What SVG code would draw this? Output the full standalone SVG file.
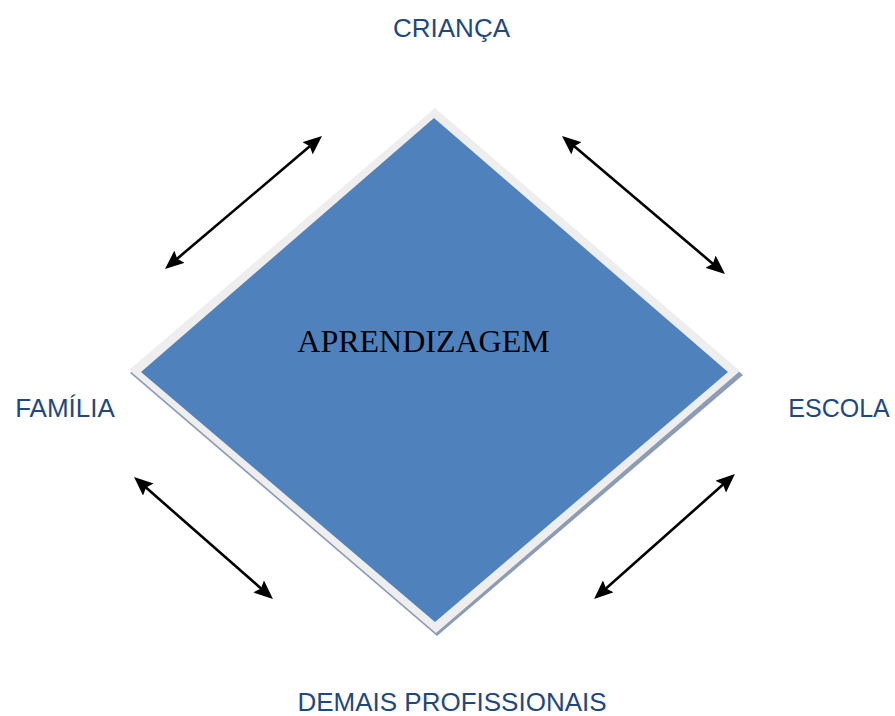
<svg xmlns="http://www.w3.org/2000/svg" width="895" height="716" viewBox="0 0 895 716">
<style>
.lbl{font-family:"Liberation Sans",Arial,sans-serif;font-size:26px;fill:#1f497d;text-anchor:middle}
.ctr{font-family:"Liberation Serif","Times New Roman",serif;font-size:32px;fill:#000;text-anchor:middle}
.arr{stroke:#000;stroke-width:2.6;fill:none;marker-start:url(#ah);marker-end:url(#ah)}
</style>
<defs>
<marker id="ah" markerUnits="userSpaceOnUse" markerWidth="20" markerHeight="16" refX="8" refY="8" orient="auto-start-reverse" viewBox="0 0 20 16">
<path d="M0,0 L19,8 L0,16 L3,8 z" fill="#000"/>
</marker>
</defs>
<rect width="895" height="716" fill="#fff"/>
<g id="aprendizagem">
<polygon points="436,111 743,375 437,636 130,373" fill="#8c9cb4"/>
<polygon points="435,108 740,371 436,633 129,370" fill="#eeeeee"/>
<polygon points="434,118 728,372 435,622 141,372" fill="#4f81bd"/>
<text class="ctr" x="423.5" y="352">APRENDIZAGEM</text>
</g>
<g id="crianca"><text class="lbl" x="451.5" y="37">CRIANÇA</text></g>
<g id="familia"><text class="lbl" x="65" y="417">FAMÍLIA</text></g>
<g id="escola"><text class="lbl" x="839" y="417" style="font-size:25px">ESCOLA</text></g>
<g id="demais"><text class="lbl" x="452" y="711">DEMAIS PROFISSIONAIS</text></g>
<g id="connectors">
<line class="arr" x1="173.4" y1="261.9" x2="313.6" y2="143.1"/>
<line class="arr" x1="570.4" y1="143.1" x2="716.6" y2="266.9"/>
<line class="arr" x1="142.3" y1="484.3" x2="264.7" y2="591.7"/>
<line class="arr" x1="602.3" y1="591.7" x2="726.7" y2="481.3"/>
</g>
</svg>
